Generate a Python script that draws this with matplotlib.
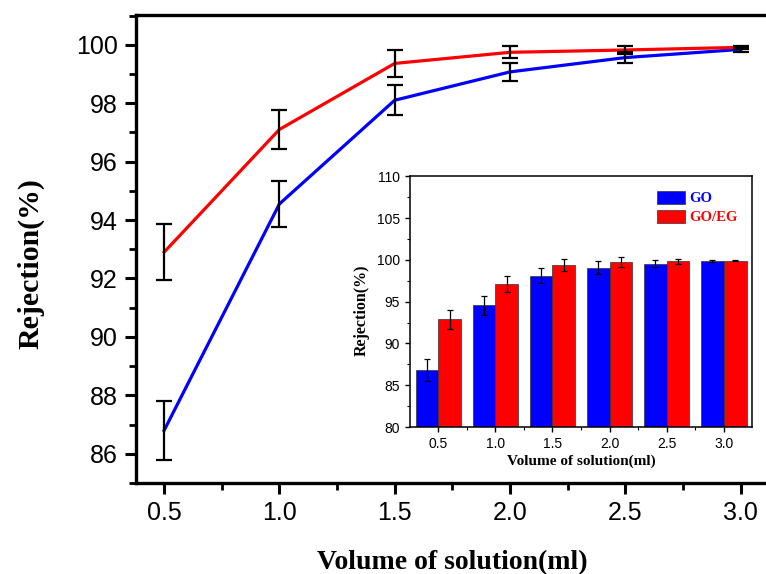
import matplotlib.pyplot as plt
import numpy as np
from matplotlib.ticker import MultipleLocator, FixedLocator

# data
volume = [0.5, 1.0, 1.5, 2.0, 2.5, 3.0]
vol_labels = ["0.5", "1.0", "1.5", "2.0", "2.5", "3.0"]
go_rej = [86.8, 94.55, 98.1, 99.07, 99.56, 99.84]
goeg_rej = [92.9, 97.1, 99.36, 99.74, 99.82, 99.91]
go_err = [1.0, 0.8, 0.52, 0.3, 0.2, 0.08]
goeg_err = [0.95, 0.68, 0.45, 0.2, 0.15, 0.06]
# the inset shows slightly larger error bars
go_err_inset = [1.3, 1.1, 0.9, 0.75, 0.4, 0.12]
goeg_err_inset = [1.15, 1.0, 0.75, 0.55, 0.3, 0.08]

serif = "Liberation Serif"
sans = "Liberation Sans"

fig = plt.figure(figsize=(7.66, 5.74), dpi=100)

## main line plot
ax = fig.add_axes([0.1775, 0.1585, 0.826, 0.8155])
ax.plot(volume, go_rej, color="#0000ff", linewidth=2.3, zorder=2)
ax.plot(volume, goeg_rej, color="#ff0000", linewidth=2.3, zorder=2)
ax.errorbar(volume, go_rej, yerr=go_err, fmt="none", ecolor="black",
            elinewidth=1.6, capsize=6, capthick=1.6, zorder=3)
ax.errorbar(volume, goeg_rej, yerr=goeg_err, fmt="none", ecolor="black",
            elinewidth=1.6, capsize=6, capthick=1.6, zorder=3)

ax.set_xlim(0.378, 3.122)
ax.set_ylim(85, 101.02)
ax.set_xticks(volume)
ax.set_xticklabels(vol_labels)
ax.xaxis.set_minor_locator(FixedLocator([0.75, 1.25, 1.75, 2.25, 2.75]))
ax.yaxis.set_minor_locator(MultipleLocator(1))
ax.set_yticks(np.arange(86, 101, 2))
for s in ax.spines.values():
    s.set_linewidth(2.4)
ax.tick_params(which="major", direction="out", length=8, width=2.2,
               labelsize=18, pad=5, top=False, right=False)
ax.tick_params(which="minor", direction="out", length=5, width=2.0,
               top=False, right=False)
for lab in ax.get_xticklabels() + ax.get_yticklabels():
    lab.set_fontfamily(sans)
ax.set_xlabel("Volume of solution(ml)", fontfamily=serif, fontweight="bold",
              fontsize=20, labelpad=18)
ax.set_ylabel("Rejection(%)", fontfamily=serif, fontweight="bold",
              fontsize=21.5, labelpad=23)
ax.yaxis.label.set_y(0.468)

## inset bar chart
ins = fig.add_axes([0.535, 0.256, 0.447, 0.437])
idx = np.arange(len(volume))
w = 0.4
ins.bar(idx - w / 2, go_rej, w, color="#0000ff", edgecolor="#333333",
        linewidth=0.5, label="GO", zorder=2)
ins.bar(idx + w / 2, goeg_rej, w, color="#ff0000", edgecolor="#333333",
        linewidth=0.5, label="GO/EG", zorder=2)
ins.errorbar(idx - w / 2, go_rej, yerr=go_err_inset, fmt="none", ecolor="black",
             elinewidth=0.9, capsize=2.5, capthick=0.9, zorder=3)
ins.errorbar(idx + w / 2, goeg_rej, yerr=goeg_err_inset, fmt="none", ecolor="black",
             elinewidth=0.9, capsize=2.5, capthick=0.9, zorder=3)
ins.set_xlim(-0.5, 5.5)
ins.set_ylim(80, 110)
ins.set_xticks(idx)
ins.set_xticklabels(vol_labels)
ins.xaxis.set_minor_locator(FixedLocator(idx[:-1] + 0.5))
ins.yaxis.set_major_locator(MultipleLocator(5))
ins.yaxis.set_minor_locator(MultipleLocator(2.5))
for s in ins.spines.values():
    s.set_linewidth(1.1)
ins.tick_params(which="major", direction="out", length=3.5, width=1,
                labelsize=10, pad=3.5, top=False, right=False)
ins.tick_params(which="minor", direction="out", length=2, width=0.8,
                top=False, right=False)
for lab in ins.get_xticklabels() + ins.get_yticklabels():
    lab.set_fontfamily(sans)
ins.set_xlabel("Volume of solution(ml)", fontfamily=serif, fontweight="bold",
               fontsize=11, labelpad=3)
ins.set_ylabel("Rejection(%)", fontfamily=serif, fontweight="bold",
               fontsize=11.5, labelpad=5)
ins.yaxis.label.set_y(0.466)

leg = ins.legend(loc="upper right", frameon=False, handlelength=1.9,
                 handleheight=1.0, handletextpad=0.3, labelspacing=0.3,
                 borderaxespad=0.6, prop={"family": serif, "weight": "bold", "size": 10.5})
for txt, col in zip(leg.get_texts(), ["#0000ff", "#ff0000"]):
    txt.set_color(col)

fig.savefig("out.png", dpi=100)
